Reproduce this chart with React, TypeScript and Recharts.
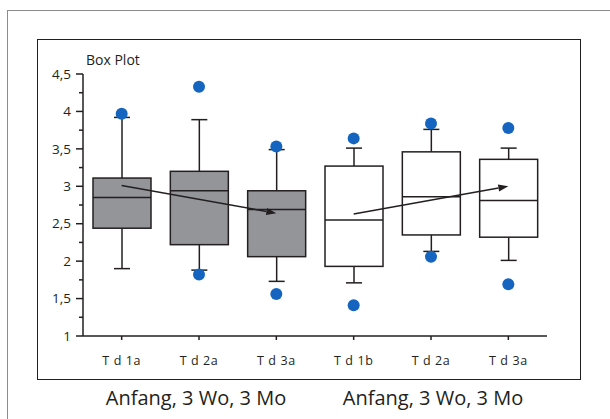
import React from "react";
import { ComposedChart, Bar, Scatter, XAxis, YAxis, ReferenceLine } from "recharts";

const categories = ["1a", "2a", "3a", "1b", "2b", "3b"];
const tickLabels = ["T d 1a", "T d 2a", "T d 3a", "T d 1b", "T d 2a", "T d 3a"];
const whiskerLow = [1.9, 1.88, 1.73, 1.71, 2.13, 2.01];
const q1 = [2.44, 2.22, 2.06, 1.93, 2.35, 2.32];
const median = [2.85, 2.94, 2.69, 2.55, 2.86, 2.81];
const q3 = [3.11, 3.2, 2.94, 3.27, 3.46, 3.36];
const whiskerHigh = [3.92, 3.89, 3.49, 3.51, 3.76, 3.51];
const outlierHigh = [3.97, 4.33, 3.53, 3.64, 3.84, 3.78];
const outlierLow = [null, 1.82, 1.56, 1.41, 2.06, 1.69];
const filled = [true, true, true, false, false, false];
const yTicks = [1, 1.25, 1.5, 1.75, 2, 2.25, 2.5, 2.75, 3, 3.25, 3.5, 3.75, 4, 4.25, 4.5];
const groupLabels = ["Anfang, 3 Wo, 3 Mo", "Anfang, 3 Wo, 3 Mo"];

// trend arrows: [fromCategory, fromValue, toCategory, toValue]
const arrows: [string, number, string, number][] = [
  ["1a", 3.01, "3a", 2.64],
  ["1b", 2.63, "3b", 3.0],
];

const INK = "#231f20";
const DOT = "#1565c0";
const BOX_GRAY = "#939598";
const FONT = "'Open Sans', sans-serif";

const data = categories.map((c, i) => ({
  cat: c,
  lo: whiskerLow[i],
  q1: q1[i],
  med: median[i],
  q3: q3[i],
  hi: whiskerHigh[i],
  outHi: outlierHigh[i],
  outLo: outlierLow[i],
  filled: filled[i],
}));

const BoxShape = (props: any) => {
  const { x, y, width, height, payload } = props;
  const top = Math.min(y, y + height);
  const h = Math.abs(height);
  const k = h / (payload.hi - payload.lo);
  const py = (v: number) => top + (payload.hi - v) * k;
  const cx = x + width / 2;
  const cap = 8;
  return (
    <g stroke={INK} strokeWidth={1.5}>
      <line x1={cx} x2={cx} y1={py(payload.hi)} y2={py(payload.q3)} />
      <line x1={cx} x2={cx} y1={py(payload.q1)} y2={py(payload.lo)} />
      <line x1={cx - cap} x2={cx + cap} y1={py(payload.hi)} y2={py(payload.hi)} />
      <line x1={cx - cap} x2={cx + cap} y1={py(payload.lo)} y2={py(payload.lo)} />
      <rect
        x={x}
        y={py(payload.q3)}
        width={width}
        height={py(payload.q1) - py(payload.q3)}
        fill={payload.filled ? BOX_GRAY : "#ffffff"}
      />
      <line x1={x} x2={x + width} y1={py(payload.med)} y2={py(payload.med)} />
    </g>
  );
};

const Dot = (props: any) => {
  if (props.cy == null || isNaN(props.cy)) return <g />;
  return <circle cx={props.cx} cy={props.cy} r={6} fill={DOT} />;
};

const Arrow = (props: any) => {
  const { x1, y1, x2, y2 } = props;
  const ang = Math.atan2(y2 - y1, x2 - x1);
  const len = 10;
  const w = 3.5;
  const bx = x2 - len * Math.cos(ang);
  const by = y2 - len * Math.sin(ang);
  const px = -Math.sin(ang) * w;
  const py = Math.cos(ang) * w;
  return (
    <g>
      <line x1={x1} y1={y1} x2={bx} y2={by} stroke={INK} strokeWidth={1.5} />
      <polygon points={`${x2},${y2} ${bx + px},${by + py} ${bx - px},${by - py}`} fill={INK} />
    </g>
  );
};

const YTick = (props: any) => {
  const { x, y, payload } = props;
  const v = payload.value;
  const major = Math.abs(v * 2 - Math.round(v * 2)) < 1e-6;
  return (
    <g>
      <line x1={x - (major ? 7 : 4)} x2={x} y1={y} y2={y} stroke={INK} strokeWidth={1.5} />
      {major && (
        <text x={x - 12} y={y} dy="0.35em" textAnchor="end" fill={INK} fontSize={13.5} fontFamily={FONT}>
          {String(v).replace(".", ",")}
        </text>
      )}
    </g>
  );
};

export default function App() {
  return (
    <div style={{ position: "absolute", left: 0, top: 0, width: 610, height: 419, background: "#fff", overflow: "hidden", fontFamily: FONT }}>
      <div style={{ position: "absolute", left: 7, top: 10, width: 620, height: 430, borderTop: "1.5px solid #8c8c8c", borderLeft: "1.5px solid #8c8c8c" }} />
      <div style={{ position: "absolute", left: 37, top: 39, width: 542, height: 339, border: `1.5px solid ${INK}` }} />
      <div style={{ position: "absolute", left: 86, top: 50, fontSize: 14, lineHeight: "19px", color: INK }}>Box Plot</div>
      {groupLabels.map((t, i) => (
        <div key={i} style={{ position: "absolute", left: i === 0 ? 96 : 333, width: 200, top: 384, textAlign: "center", fontSize: 20, lineHeight: "27px", color: INK }}>
          {t}
        </div>
      ))}
      <div style={{ position: "absolute", left: 0, top: 0 }}>
        <ComposedChart width={610} height={419} data={data} margin={{ top: 74, right: 63, bottom: 53, left: 38 }}>
          <XAxis
            dataKey="cat"
            height={30}
            tickFormatter={(v: any, i: number) => tickLabels[i]}
            tick={{ fill: INK, fontSize: 12.5, fontFamily: FONT, letterSpacing: 0.6 }}
            tickSize={4}
            tickMargin={16}
            stroke={INK}
            strokeWidth={1.5}
          />
          <YAxis
            type="number"
            domain={[1, 4.5]}
            ticks={yTicks}
            interval={0}
            width={45}
            tick={<YTick />}
            tickLine={false}
            tickSize={0}
            tickMargin={0}
            stroke={INK}
            strokeWidth={1.5}
          />
          <Bar dataKey={(d: any) => [d.lo, d.hi]} barSize={58} shape={<BoxShape />} isAnimationActive={false} />
          {arrows.map((a, i) => (
            <ReferenceLine
              key={i}
              segment={[{ x: a[0], y: a[1] }, { x: a[2], y: a[3] }]}
              shape={(p: any) => <Arrow {...p} />}
              ifOverflow="visible"
            />
          ))}
          <Scatter dataKey="outHi" shape={<Dot />} isAnimationActive={false} />
          <Scatter dataKey="outLo" shape={<Dot />} isAnimationActive={false} />
        </ComposedChart>
      </div>
    </div>
  );
}
